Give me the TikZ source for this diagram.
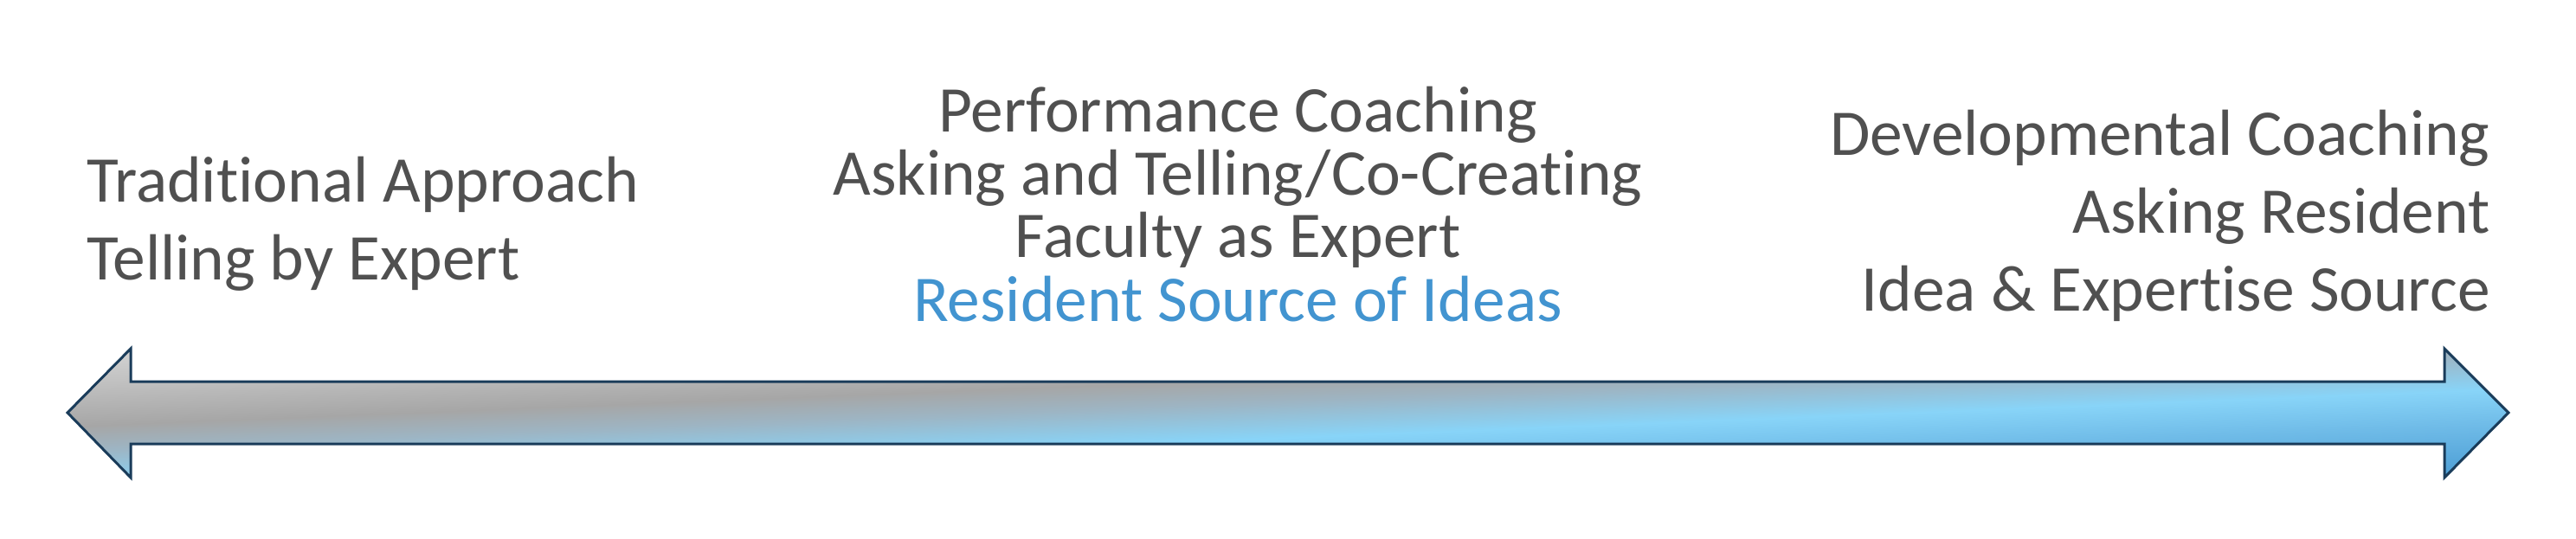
\documentclass[tikz,border=0pt]{standalone}
\usepackage{fontspec}
\setmainfont{Carlito}[Ligatures=NoCommon]
\definecolor{txtgray}{RGB}{80,80,80}
\definecolor{txtblue}{RGB}{66,148,208}
\definecolor{edgenavy}{RGB}{26,60,90}
\definecolor{cA}{RGB}{212,212,212}
\definecolor{cB}{RGB}{194,194,194}
\definecolor{cC}{RGB}{166,166,166}
\definecolor{cD}{RGB}{157,181,196}
\definecolor{cE}{RGB}{136,212,248}
\definecolor{cF}{RGB}{112,188,232}
\definecolor{cG}{RGB}{74,156,212}
\pgfdeclareverticalshading{arrowgrad}{100bp}{color(0bp)=(cG); color(25.35bp)=(cG); color(37.4bp)=(cF); color(44.7bp)=(cE); color(52.4bp)=(cD); color(57.7bp)=(cC); color(67.5bp)=(cB); color(74.6bp)=(cA); color(100bp)=(cA)}
\tikzset{
  sidetxt/.style={inner sep=0pt, text=txtgray, font=\fontsize{37.7pt}{45pt}\selectfont},
  midtxt/.style={anchor=base, inner sep=0pt, text=txtgray, font=\fontsize{37.7pt}{36pt}\selectfont},
  arrowedge/.style={draw=edgenavy, line width=1.5pt, line join=miter},
}
\begin{document}
\begin{tikzpicture}[x=1pt,y=1pt]
\useasboundingbox (0,0) rectangle (1488,311);
\begin{scope}
  \clip (39,72.5) -- (75.5,109.5) -- (75.5,90.5) -- (1412,90.5) -- (1412,109.5) -- (1449,72.5) -- (1412,35) -- (1412,54.5) -- (75.5,54.5) -- (75.5,35) -- cycle;
  \begin{scope}[transform canvas={cm={1,0.04,0,1,(0,0)}}]
    \shade[shading=arrowgrad] (35,-24) rectangle (1453,109);
  \end{scope}
\end{scope}
\draw[arrowedge] (39,72.5) -- (75.5,109.5) -- (75.5,90.5) -- (1412,90.5) -- (1412,109.5) -- (1449,72.5) -- (1412,35) -- (1412,54.5) -- (75.5,54.5) -- (75.5,35) -- cycle;
% left
\node[sidetxt, anchor=base west] (l1) at (50,194) {Traditional Approach};
\node[sidetxt, anchor=base west] (l2) at (50,149.5) {Telling by Expert};
% middle
\node[midtxt] (m1) at (715,234.5) {Performance Coaching};
\node[midtxt] (m2) at (715,198) {Asking and Telling/Co-Creating};
\node[midtxt] (m3) at (715,162) {Faculty as Expert};
\node[midtxt, text=txtblue] (m4) at (715,125.5) {Resident Source of Ideas};
% right
\node[sidetxt, anchor=base east] (r1) at (1438.5,221) {Developmental Coaching};
\node[sidetxt, anchor=base east] (r2) at (1438.5,176) {Asking Resident};
\node[sidetxt, anchor=base east] (r3) at (1438.5,131.5) {Idea \& Expertise Source};
\end{tikzpicture}
\end{document}
